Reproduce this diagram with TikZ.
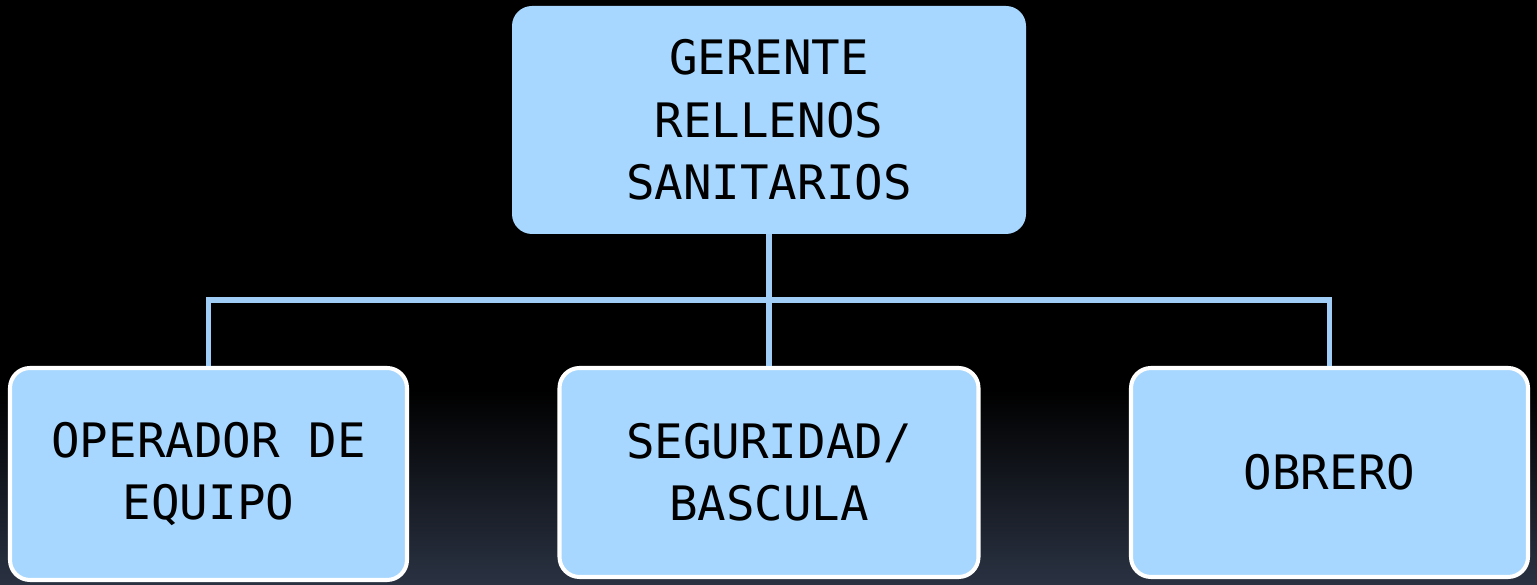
\documentclass[tikz,border=0pt]{standalone}
\usepackage{fontspec}
\newfontfamily\cajafont{DejaVu Sans Mono}
\usepackage{xcolor}
\usepackage{tikz}
\usetikzlibrary{positioning,calc}

\definecolor{cajaazul}{RGB}{167,215,254}
\definecolor{lineaazul}{RGB}{160,205,245}
\definecolor{fondoabajo}{RGB}{42,50,66}

\tikzset{
	caja/.style={rectangle, rounded corners=0.4cm, fill=cajaazul, text=black,
		align=center, font=\cajafont\fontsize{27}{35.5}\selectfont},
	cajablanca/.style={caja, draw=white, line width=2.3pt},
	conector/.style={draw=lineaazul, line width=3pt}
}

\begin{document}
\begin{tikzpicture}
		% fondo
		\fill[black] (0,0) rectangle (30.74,11.7);
		\shade[top color=black, bottom color=fondoabajo] (0,0) rectangle (30.74,3.9);
		\useasboundingbox (0,0) rectangle (30.74,11.7);

		\node[caja, minimum width=10.28cm, minimum height=4.56cm] (gerente) at (15.38,9.30) {GERENTE\\RELLENOS\\SANITARIOS};

		\node[cajablanca, minimum width=7.94cm, minimum height=4.24cm] (operador) at (4.17,2.22) {OPERADOR DE\\EQUIPO};
		\node[cajablanca, minimum width=8.38cm, minimum height=4.18cm] (seguridad) at (15.38,2.25) {SEGURIDAD/\\BASCULA};
		\node[cajablanca, minimum width=7.94cm, minimum height=4.18cm] (obrero) at (26.59,2.25) {OBRERO};

		\coordinate (bus) at (0,5.70);
		\draw[conector] (gerente.south) -- (seguridad.north);
		\draw[conector] (operador.north) -- (operador.north |- bus) -- (obrero.north |- bus) -- (obrero.north);
	\end{tikzpicture}
\end{document}
